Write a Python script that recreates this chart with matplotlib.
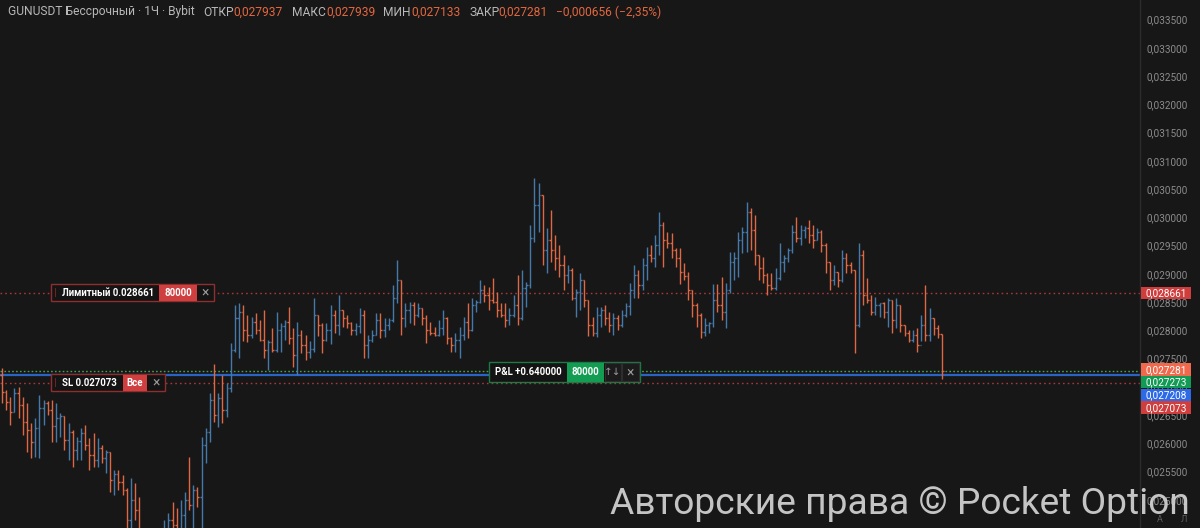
import matplotlib
matplotlib.use("Agg")
import matplotlib.pyplot as plt
from matplotlib.patches import Rectangle
from matplotlib.ticker import FixedLocator, FuncFormatter
import numpy as np

plt.rcParams['font.family'] = ['Roboto', 'DejaVu Sans']

# ---------------- data (GUNUSDT perpetual, 1h, Bybit) ----------------
first_open = 0.027210
highs = [
    0.027333, 0.026944, 0.026820, 0.026979, 0.026997, 0.026820, 0.026714, 0.026360, 0.026448, 0.026856,
    0.026767, 0.026749, 0.026767, 0.026714, 0.026537, 0.026483, 0.026360, 0.026236, 0.026112, 0.026271,
    0.026325, 0.026094, 0.026183, 0.026094, 0.025970, 0.025882, 0.025847, 0.025528, 0.025528, 0.025440,
    0.025209, 0.025386, 0.025298, 0.025050, 0.024466, 0.024289, 0.024200, 0.024378, 0.024378, 0.024643,
    0.024767, 0.024962, 0.024856, 0.024997, 0.025139, 0.025758, 0.025263, 0.025227, 0.026112, 0.026271,
    0.026891, 0.027404, 0.026891, 0.027210, 0.027068, 0.027776, 0.028449, 0.028484, 0.028449, 0.028272,
    0.028236, 0.028307, 0.028183, 0.028360, 0.027829, 0.028041, 0.028325, 0.028130, 0.028183, 0.028413,
    0.028041, 0.028147, 0.028006, 0.027917, 0.027811, 0.028572, 0.028272, 0.028130, 0.028130, 0.028449,
    0.028360, 0.028626, 0.028360, 0.028272, 0.028147, 0.028130, 0.028396, 0.028360, 0.027917, 0.028006,
    0.028307, 0.028307, 0.028218, 0.028218, 0.028803, 0.029245, 0.028891, 0.028484, 0.028502, 0.028502,
    0.028484, 0.028396, 0.028272, 0.028147, 0.028059, 0.028183, 0.028360, 0.028236, 0.027882, 0.027953,
    0.028059, 0.028236, 0.028484, 0.028572, 0.028537, 0.028891, 0.028803, 0.028768, 0.028926, 0.028679,
    0.028484, 0.028484, 0.028396, 0.028626, 0.028980, 0.029068, 0.028856, 0.029864, 0.030696, 0.030608,
    0.030395, 0.029811, 0.030130, 0.029687, 0.029510, 0.029333, 0.029156, 0.029103, 0.028732, 0.029015,
    0.028891, 0.028537, 0.028236, 0.028413, 0.028413, 0.028449, 0.028325, 0.028307, 0.028272, 0.028360,
    0.028484, 0.028838, 0.029156, 0.029068, 0.029280, 0.029475, 0.029510, 0.029687, 0.030095, 0.029918,
    0.029741, 0.029723, 0.029457, 0.029457, 0.029192, 0.029033, 0.028714, 0.028484, 0.028307, 0.028218,
    0.028147, 0.028820, 0.028820, 0.028944, 0.028838, 0.029387, 0.029387, 0.029741, 0.029829, 0.030272,
    0.030165, 0.030042, 0.029333, 0.029298, 0.029015, 0.029015, 0.029103, 0.029546, 0.029333, 0.029457,
    0.029864, 0.030006, 0.029864, 0.029847, 0.029953, 0.029864, 0.029811, 0.029776, 0.029546, 0.029210,
    0.029156, 0.029033, 0.029422, 0.029369, 0.029210, 0.029068, 0.029546, 0.029422, 0.028926, 0.028626,
    0.028590, 0.028484, 0.028502, 0.028572, 0.028537, 0.028572, 0.028449, 0.028095, 0.028006, 0.028006,
    0.028041, 0.028272, 0.028803, 0.028396, 0.028218, 0.028095, 0.027939,
]
lows = [
    0.026714, 0.026590, 0.026325, 0.026555, 0.026448, 0.026148, 0.025847, 0.025740, 0.025758, 0.025740,
    0.026325, 0.026502, 0.026024, 0.026024, 0.026112, 0.025882, 0.025705, 0.025581, 0.025705, 0.025705,
    0.025882, 0.025528, 0.025581, 0.025581, 0.025652, 0.025475, 0.025139, 0.025085, 0.025174, 0.025085,
    0.024378, 0.024378, 0.024643, 0.024289, 0.023758, 0.023581, 0.023581, 0.023758, 0.023670, 0.023847,
    0.024200, 0.024289, 0.024200, 0.024289, 0.024378, 0.024820, 0.024378, 0.024873, 0.024378, 0.025652,
    0.026024, 0.026378, 0.026290, 0.026360, 0.026466, 0.026909, 0.027617, 0.027510, 0.027811, 0.027794,
    0.027864, 0.027935, 0.027811, 0.027510, 0.027298, 0.027617, 0.027617, 0.027617, 0.027829, 0.027758,
    0.027351, 0.027210, 0.027599, 0.027475, 0.027510, 0.027617, 0.027899, 0.027599, 0.027811, 0.027758,
    0.027953, 0.027917, 0.028059, 0.028041, 0.027917, 0.027917, 0.027953, 0.027510, 0.027510, 0.027794,
    0.027917, 0.027864, 0.027882, 0.028006, 0.028147, 0.028484, 0.027917, 0.028059, 0.028130, 0.028095,
    0.028236, 0.028095, 0.027776, 0.027917, 0.027899, 0.027899, 0.027917, 0.027758, 0.027617, 0.027617,
    0.027510, 0.027829, 0.027864, 0.027988, 0.028325, 0.028484, 0.028502, 0.028360, 0.028484, 0.028236,
    0.028236, 0.028059, 0.028095, 0.028236, 0.028095, 0.028183, 0.028413, 0.028749, 0.029564, 0.029741,
    0.029156, 0.029015, 0.029210, 0.029068, 0.028944, 0.028714, 0.028838, 0.028537, 0.028236, 0.028360,
    0.028413, 0.027899, 0.027899, 0.027882, 0.028059, 0.028095, 0.027970, 0.027917, 0.028006, 0.028059,
    0.028236, 0.028272, 0.028572, 0.028572, 0.028714, 0.028891, 0.029210, 0.029121, 0.029333, 0.029121,
    0.029457, 0.029280, 0.029121, 0.028820, 0.028891, 0.028537, 0.028236, 0.028059, 0.027864, 0.027899,
    0.027953, 0.028059, 0.028325, 0.028183, 0.028041, 0.028661, 0.028891, 0.028944, 0.029369, 0.029387,
    0.029422, 0.029156, 0.028891, 0.028838, 0.028626, 0.028714, 0.028714, 0.028891, 0.029033, 0.029210,
    0.029369, 0.029564, 0.029510, 0.029634, 0.029546, 0.029457, 0.029599, 0.029387, 0.029015, 0.028714,
    0.028803, 0.028768, 0.028856, 0.029015, 0.029015, 0.027599, 0.028059, 0.028449, 0.028484, 0.028272,
    0.028272, 0.028236, 0.028218, 0.028059, 0.027953, 0.028041, 0.027970, 0.027899, 0.027794, 0.027794,
    0.027617, 0.027811, 0.027811, 0.027811, 0.027917, 0.027864, 0.027133,
]
closes = [
    0.026909, 0.026732, 0.026555, 0.026891, 0.026678, 0.026378, 0.026236, 0.026024, 0.026271, 0.026625,
    0.026714, 0.026590, 0.026307, 0.026448, 0.026483, 0.026059, 0.026201, 0.025882, 0.026041, 0.026183,
    0.025970, 0.025793, 0.025705, 0.025917, 0.025740, 0.025847, 0.025351, 0.025457, 0.025316, 0.025174,
    0.024643, 0.024997, 0.024820, 0.024466, 0.024112, 0.023847, 0.024024, 0.024200, 0.023935, 0.024466,
    0.024643, 0.024555, 0.024431, 0.024732, 0.024997, 0.024909, 0.025174, 0.025050, 0.025970, 0.026201,
    0.026767, 0.026502, 0.026802, 0.026590, 0.026979, 0.027652, 0.028218, 0.028325, 0.028006, 0.027917,
    0.028147, 0.028006, 0.027829, 0.027652, 0.027793, 0.027652, 0.028006, 0.028077, 0.028147, 0.027864,
    0.027564, 0.027917, 0.027740, 0.027617, 0.027670, 0.028272, 0.028095, 0.027829, 0.028006, 0.028272,
    0.028095, 0.028360, 0.028218, 0.028130, 0.028006, 0.028077, 0.028272, 0.027740, 0.027829, 0.027917,
    0.028183, 0.028006, 0.028095, 0.028183, 0.028572, 0.028891, 0.028218, 0.028360, 0.028449, 0.028272,
    0.028396, 0.028218, 0.028006, 0.027953, 0.027917, 0.028041, 0.028218, 0.027864, 0.027740, 0.027829,
    0.027917, 0.028147, 0.028006, 0.028449, 0.028502, 0.028714, 0.028626, 0.028537, 0.028502, 0.028360,
    0.028272, 0.028183, 0.028272, 0.028449, 0.028218, 0.028749, 0.028803, 0.029634, 0.030218, 0.030395,
    0.029422, 0.029599, 0.029422, 0.029280, 0.029156, 0.028980, 0.029068, 0.028572, 0.028679, 0.028891,
    0.028537, 0.028095, 0.027953, 0.028272, 0.028360, 0.028218, 0.028095, 0.028218, 0.028095, 0.028272,
    0.028431, 0.028714, 0.028980, 0.028803, 0.029156, 0.029333, 0.029280, 0.029510, 0.029864, 0.029599,
    0.029546, 0.029422, 0.029280, 0.029033, 0.028962, 0.028714, 0.028449, 0.028272, 0.027970, 0.028095,
    0.028130, 0.028537, 0.028449, 0.028325, 0.028714, 0.029210, 0.029280, 0.029599, 0.029741, 0.030095,
    0.029776, 0.029333, 0.029103, 0.028980, 0.028803, 0.028749, 0.028926, 0.029210, 0.029280, 0.029422,
    0.029741, 0.029634, 0.029776, 0.029811, 0.029687, 0.029599, 0.029741, 0.029510, 0.029210, 0.028891,
    0.029033, 0.028891, 0.029280, 0.029156, 0.029068, 0.028095, 0.029333, 0.028626, 0.028537, 0.028325,
    0.028449, 0.028484, 0.028325, 0.028537, 0.028183, 0.028449, 0.028095, 0.027953, 0.027829, 0.027917,
    0.027740, 0.028095, 0.027917, 0.028218, 0.028041, 0.027937, 0.027281,
]

price_ticks = [0.0250, 0.0255, 0.0260, 0.0265, 0.0270, 0.0275, 0.0280, 0.0285, 0.0290,
               0.0295, 0.0300, 0.0305, 0.0310, 0.0315, 0.0320, 0.0325, 0.0330, 0.0335]

limit_price = 0.028661
sl_price = 0.027073
last_price = 0.027281
mark_price = 0.027273
entry_price = 0.027208
order_qty = "80000"
pnl_text = "P&L +0.640000"

header_parts = [
    ("GUNUSDT Бессрочный · 1Ч · Bybit", "gray", 8),
    ("ОТКР", "gray", 203), ("0,027937", "val", 233),
    ("МАКС", "gray", 292), ("0,027939", "val", 326),
    ("МИН", "gray", 383), ("0,027133", "val", 411),
    ("ЗАКР", "gray", 469), ("0,027281", "val", 498),
    ("−0,000656 (−2,35%)", "val", 556),
]
watermark = "Авторские права © Pocket Option"

# ---------------- style ----------------
W, H, DPI = 1200, 528, 100
BG = "#171717"
UP = "#4579ab"
DOWN = "#de6844"
AXTXT = "#8b8b8b"

fig = plt.figure(figsize=(W / DPI, H / DPI), dpi=DPI, facecolor=BG)
ax = fig.add_axes([0, 0, 1140 / W, 1])
ax.set_facecolor(BG)

n = len(closes)
opens = [first_open] + closes[:-1]
xs = np.arange(n)
o = np.array(opens); c = np.array(closes)
cols = np.where(c >= o, UP, DOWN)

ax.set_xlim(-0.48, 273.6)
ax.set_ylim(0.024501, 0.033847)

ax.vlines(xs, lows, highs, colors=cols, linewidth=1.0, zorder=3)
ax.hlines(opens, xs - 0.38, xs, colors=cols, linewidth=1.0, zorder=3)
ax.hlines(closes, xs, xs + 0.38, colors=cols, linewidth=1.0, zorder=3)

# order / position lines
ax.axhline(limit_price, color="#a8383a", lw=1.0, ls=(0, (1.2, 2.2)), zorder=2)
ax.axhline(sl_price, color="#a8383a", lw=1.0, ls=(0, (1.2, 2.2)), zorder=2)
ax.axhline(mark_price, color="#4aa04f", lw=1.0, ls=(0, (1.2, 1.6)), zorder=2)
ax.axhline(entry_price, color="#2b63c4", lw=1.6, zorder=2)

# right price axis
for s in ["top", "left", "bottom"]:
    ax.spines[s].set_visible(False)
ax.spines["right"].set_color("#2c2c2c")
ax.spines["right"].set_linewidth(1.0)
ax.xaxis.set_visible(False)
ax.yaxis.tick_right()
ax.yaxis.set_major_locator(FixedLocator(price_ticks))
ax.yaxis.set_major_formatter(FuncFormatter(lambda v, p: f"{v:.6f}".replace(".", ",")))
ax.tick_params(axis="y", length=0, pad=4.5, labelsize=7.2, labelcolor=AXTXT)

# ---------------- overlay in pixel coordinates ----------------
ov = fig.add_axes([0, 0, 1, 1])
ov.set_xlim(0, W)
ov.set_ylim(H, 0)
ov.axis("off")
ov.patch.set_alpha(0)


def ypx(p):
    return H - ax.transData.transform((0, p))[1]


def rect(x0, x1, y0, y1, fc, ec="none", lw=1.0, z=5):
    ov.add_patch(Rectangle((x0, y0), x1 - x0, y1 - y0, facecolor=fc,
                           edgecolor=ec, linewidth=lw, zorder=z))


BOXTXT = dict(color="white", fontsize=6.9, fontweight="bold", va="center", zorder=7)

# Limit order label
yl = ypx(limit_price)
rect(50.5, 213.5, yl - 8.5, yl + 8.5, "#141414", "#8e2e2e", 1.0)
rect(54.5, 56.0, yl - 4.5, yl + 4.5, "#6e2424", z=6)
ov.text(62, yl, "Лимитный " + f"{limit_price:.6f}", ha="left", **BOXTXT)
rect(159, 197, yl - 8, yl + 8, "#cf3f3f", z=6)
ov.text(178, yl, order_qty, ha="center", **BOXTXT)
ov.text(205, yl, "×", ha="center", va="center", color="#9a9a9a", fontsize=10, zorder=7)

# SL label
ys = ypx(sl_price)
rect(50.5, 165, ys - 8.5, ys + 8.5, "#141414", "#8e2e2e", 1.0)
rect(54.5, 56.0, ys - 4.5, ys + 4.5, "#6e2424", z=6)
ov.text(62, ys, "SL " + f"{sl_price:.6f}", ha="left", **BOXTXT)
rect(123, 147, ys - 8, ys + 8, "#cf3f3f", z=6)
ov.text(135, ys, "Все", ha="center", **BOXTXT)
ov.text(156, ys, "×", ha="center", va="center", color="#9a9a9a", fontsize=10, zorder=7)

# P&L label
yp = (ypx(mark_price) + ypx(entry_price)) / 2 - 1
rect(488.5, 639.5, yp - 10, yp + 10, "#141414", "#1d7a46", 1.0)
ov.text(495, yp, pnl_text, ha="left", **BOXTXT)
rect(567, 604, yp - 9.5, yp + 9.5, "#139d52", z=6)
ov.text(585.5, yp, order_qty, ha="center", **BOXTXT)
rect(604.5, 621, yp - 9, yp + 9, "#1b1b1b", "#2e2e2e", 0.8, z=6)
ov.text(612.7, yp, "↑↓", ha="center", va="center", color="#9a9a9a", fontsize=7.5, zorder=7,
        family=["DejaVu Sans"])
rect(622, 639, yp - 9, yp + 9, "#1b1b1b", "#2e2e2e", 0.8, z=6)
ov.text(630.5, yp, "×", ha="center", va="center", color="#9a9a9a", fontsize=10, zorder=7)

# price tags on the axis
def tag(y, label, fc):
    rect(1140.5, 1190.5, y - 6.2, y + 6.2, fc, z=8)
    ov.text(1145, y + 0.3, label, ha="left", va="center", color="white", fontsize=7.2, zorder=9)

fmt = lambda v: f"{v:.6f}".replace(".", ",")
tag(ypx(limit_price), fmt(limit_price), "#cf3d3d")
t0 = ypx(last_price) - 1.5
tag(t0, fmt(last_price), "#f0694d")
tag(t0 + 12.7, fmt(mark_price), "#119b55")
tag(t0 + 25.4, fmt(entry_price), "#2d6ae8")
tag(t0 + 38.1, fmt(sl_price), "#cf3d3d")

# header
fig.canvas.draw()
renderer = fig.canvas.get_renderer()
hcol = {"gray": "#b8b8b8", "val": "#e4673f"}
t = ov.text(0, 12, header_parts[0][0], fontsize=9, color=hcol["gray"], va="center")
wpx = t.get_window_extent(renderer).width
hfs = 9 * 188.0 / wpx
t.remove()
for txt, kind, xpos in header_parts:
    ov.text(xpos, 12, txt, fontsize=hfs, color=hcol[kind], va="center", ha="left", zorder=9)

# small auto / log buttons (partly under the watermark, as in the source)
ov.text(1160, 520, "А", fontsize=6.5, color="#5e5e5e", ha="center", va="center", zorder=6)
ov.text(1184, 520, "Л", fontsize=6.5, color="#5e5e5e", ha="center", va="center", zorder=6)

# watermark
wm = ov.text(1190, 504, watermark, fontsize=30, color="#d4d4d4", alpha=0.92,
             ha="right", va="center", zorder=10)
wpx = wm.get_window_extent(renderer).width
wm.set_fontsize(30 * 578.0 / wpx)

fig.savefig("out.png", dpi=DPI, facecolor=BG)
